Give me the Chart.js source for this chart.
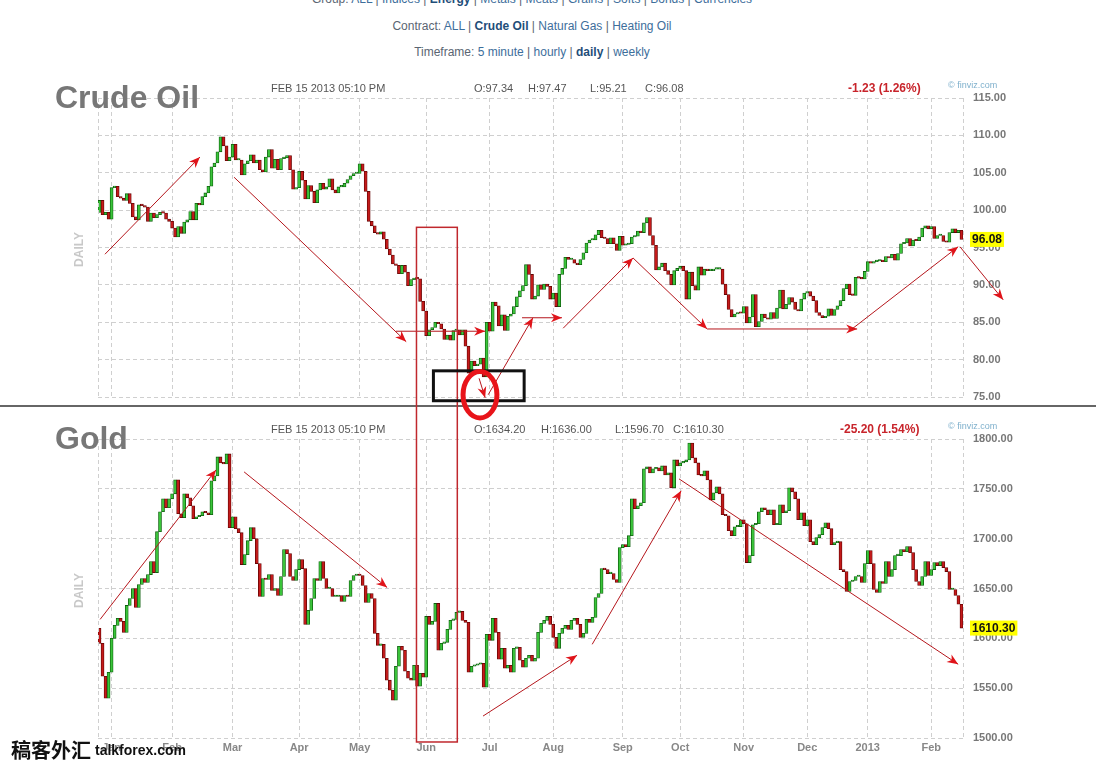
<!DOCTYPE html>
<html>
<head>
<meta charset="utf-8">
<script src="https://cdn.jsdelivr.net/npm/chart.js@4.4.0/dist/chart.umd.min.js"></script>
<style>
  body { margin: 0; width: 1096px; height: 766px; overflow: hidden; background: #fff; position: relative;
         font-family: Arial, "Liberation Sans", sans-serif; }
  .nav { position: absolute; left: 0; width: 1064px; text-align: center; font-size: 12px; line-height: 14px; color: #5a6572; }
  .nav a { color: #3d6e9b; }
  .nav b { color: #1f4e79; }
  canvas { position: absolute; left: 0; }
  #oil { top: 70px; }
  #gold { top: 408px; }
  #over { top: 0; pointer-events: none; }
</style>
</head>
<body>
<div class="nav" style="top:-8px">Group: <a>ALL</a> | <a>Indices</a> | <b>Energy</b> | <a>Metals</a> | <a>Meats</a> | <a>Grains</a> | <a>Softs</a> | <a>Bonds</a> | <a>Currencies</a></div>
<div class="nav" style="top:19px">Contract: <a>ALL</a> | <b>Crude Oil</b> | <a>Natural Gas</a> | <a>Heating Oil</a></div>
<div class="nav" style="top:45px">Timeframe: <a>5 minute</a> | <a>hourly</a> | <b>daily</b> | <a>weekly</a></div>

<canvas id="oil" width="1096" height="336"></canvas>
<canvas id="gold" width="1096" height="358"></canvas>
<canvas id="over" width="1096" height="766"></canvas>

<script>
// trading days per month, Dec 27 2011 .. Feb 15 2013
const monthNames = ['', 'Jan', 'Feb', 'Mar', 'Apr', 'May', 'Jun', 'Jul', 'Aug', 'Sep', 'Oct', 'Nov', 'Dec', '2013', 'Feb'];
const monthDays = [4, 20, 20, 22, 20, 22, 21, 21, 23, 19, 21, 21, 20, 21, 11];

// daily closes, one line per month
const oilOpenFirst = 99.7;
const oilClose = [
  101.3, 99.4, 99.7, 98.8,
  103.0, 103.2, 101.8, 101.6, 101.3, 102.2, 100.9, 99.1, 98.7, 100.7, 100.6, 100.4, 98.5, 99.6, 99.0, 99.4, 99.7, 99.6, 98.8, 98.5,
  97.6, 96.4, 97.8, 96.9, 98.4, 98.7, 99.8, 98.7, 100.9, 100.7, 101.8, 102.3, 103.2, 105.8, 106.3, 107.8, 109.8, 108.6, 106.6, 107.1,
  108.8, 106.7, 106.7, 104.7, 106.2, 106.6, 107.4, 106.3, 106.7, 105.4, 105.1, 107.1, 108.1, 105.6, 106.8, 105.4, 106.9, 107.0, 107.3, 105.4, 102.8, 103.0,
  105.2, 104.0, 101.5, 103.3, 102.5, 101.0, 102.7, 103.6, 102.8, 103.1, 104.2, 102.7, 102.3, 103.1, 103.1, 103.6, 104.1, 104.6, 104.9, 104.9,
  106.2, 105.2, 102.5, 98.5, 97.9, 97.0, 96.8, 97.1, 96.1, 94.8, 94.0, 92.8, 92.6, 91.5, 92.6, 91.7, 89.9, 90.7, 90.9, 90.8, 87.8, 86.5,
  83.2, 84.0, 84.3, 85.0, 84.8, 84.1, 82.7, 83.3, 82.6, 83.9, 84.0, 83.3, 84.0, 81.8, 78.2, 79.8, 79.2, 79.4, 80.2, 77.7, 85.0,
  83.8, 87.7, 87.2, 84.5, 86.0, 83.9, 85.8, 86.1, 87.1, 88.4, 89.2, 89.9, 92.7, 91.4, 88.1, 88.5, 90.0, 89.4, 90.1, 89.8, 88.1,
  88.9, 87.1, 91.4, 92.2, 93.7, 93.4, 93.4, 92.9, 92.7, 93.4, 94.3, 95.6, 96.0, 96.0, 96.7, 97.3, 96.3, 96.2, 95.5, 96.3, 95.5, 94.6, 96.5,
  95.3, 95.4, 95.5, 96.4, 96.5, 97.2, 97.0, 98.3, 99.0, 96.6, 95.3, 92.0, 92.4, 92.9, 91.9, 91.4, 90.0, 91.9, 92.2,
  92.5, 91.9, 88.1, 91.7, 89.9, 89.3, 92.4, 91.3, 92.1, 91.9, 91.9, 92.1, 92.1, 92.1, 90.1, 88.7, 86.7, 85.7, 86.1, 86.3, 86.2,
  87.1, 84.9, 85.7, 88.7, 84.4, 85.1, 86.1, 85.6, 85.4, 86.3, 85.5, 86.9, 89.3, 86.8, 87.4, 88.3, 87.7, 86.7, 86.5, 88.1, 88.9,
  89.1, 88.5, 87.9, 86.3, 85.9, 85.6, 85.8, 86.8, 85.9, 86.7, 87.2, 87.9, 89.5, 90.1, 88.7, 88.6, 91.0, 90.9, 90.8, 91.8,
  93.1, 92.9, 93.1, 93.2, 93.2, 93.1, 93.8, 93.6, 94.1, 93.3, 94.2, 95.5, 95.6, 96.2, 95.2, 96.0, 95.9, 96.4, 97.6, 97.9, 97.5,
  97.8, 96.2, 96.6, 96.6, 95.8, 95.7, 97.0, 97.5, 97.0, 97.3, 96.08
];

const goldOpenFirst = 1610;
const goldClose = [
  1595, 1562, 1540, 1566,
  1600, 1613, 1620, 1617, 1606, 1633, 1640, 1650, 1631, 1654, 1660, 1656, 1664, 1677, 1666, 1707, 1727, 1740, 1731, 1740,
  1745, 1759, 1725, 1721, 1745, 1741, 1733, 1720, 1722, 1723, 1727, 1726, 1724, 1758, 1763, 1782, 1776, 1775, 1785, 1711,
  1722, 1710, 1706, 1674, 1684, 1698, 1711, 1700, 1675, 1642, 1660, 1659, 1664, 1648, 1650, 1643, 1662, 1689, 1685, 1662, 1658, 1669,
  1679, 1670, 1614, 1628, 1640, 1660, 1658, 1677, 1660, 1650, 1650, 1642, 1642, 1643, 1637, 1643, 1642, 1658, 1663, 1664,
  1663, 1653, 1636, 1645, 1640, 1605, 1593, 1594, 1580, 1558, 1548, 1538, 1572, 1592, 1588, 1567, 1560, 1558, 1573, 1552, 1565, 1561,
  1622, 1614, 1617, 1635, 1588, 1595, 1596, 1609, 1618, 1619, 1626, 1627, 1618, 1616, 1566, 1572, 1573, 1574, 1575, 1551, 1604,
  1598, 1620, 1606, 1579, 1590, 1570, 1573, 1566, 1590, 1591, 1578, 1571, 1580, 1583, 1577, 1580, 1606, 1615, 1618, 1622, 1614,
  1601, 1590, 1605, 1610, 1613, 1609, 1618, 1620, 1614, 1601, 1605, 1619, 1616, 1621, 1641, 1645, 1670, 1669, 1665, 1665, 1659, 1656, 1691,
  1694, 1692, 1703, 1740, 1730, 1733, 1736, 1770, 1772, 1766, 1770, 1771, 1768, 1773, 1764, 1766, 1751, 1779, 1773,
  1776, 1777, 1779, 1796, 1781, 1776, 1764, 1763, 1768, 1759, 1739, 1746, 1752, 1745, 1724, 1723, 1708, 1703, 1712, 1712, 1719,
  1715, 1676, 1683, 1714, 1715, 1727, 1731, 1729, 1724, 1729, 1714, 1714, 1734, 1726, 1728, 1751, 1747, 1740, 1719, 1726, 1713,
  1719, 1697, 1694, 1701, 1704, 1711, 1716, 1710, 1694, 1696, 1697, 1669, 1667, 1647, 1657, 1658, 1662, 1662, 1656, 1675,
  1688, 1675, 1649, 1646, 1657, 1655, 1677, 1662, 1669, 1683, 1683, 1689, 1687, 1692, 1686, 1669, 1657, 1653, 1662, 1677, 1663,
  1669, 1676, 1673, 1677, 1671, 1667, 1649, 1649, 1643, 1634.2, 1610.3
];

const oilYTicks = [75, 115, 5];
const goldYTicks = [1500, 1800, 50];

// hand drawn marks, in [day index, price] units
const oilArrows = [
  [1.8, 94.1, 33.2, 107.1],
  [44.5, 104.4, 101.4, 82.4],
  [98.0, 83.8, 127.5, 83.8],
  [125.5, 77.5, 127.5, 74.9],
  [128.5, 75.3, 143.3, 85.6],
  [139.7, 85.6, 152.9, 85.6],
  [153.3, 84.2, 176.4, 93.6],
  [176.4, 93.6, 200.9, 84.1],
  [200.9, 84.1, 250.5, 84.1],
  [248.8, 84.1, 283.9, 95.1],
  [284.5, 95.1, 298.8, 88.0]
];
const goldArrows = [
  [0.2, 1619, 38.5, 1769],
  [47.8, 1767, 95.1, 1651],
  [126.8, 1522, 157.9, 1583],
  [162.9, 1594, 192.3, 1748],
  [191.6, 1760, 283.9, 1574]
];
const redBox = { from: 104.8, to: 118.3, oilTop: 97.7, goldBottom: 1496 };
const blackBox = { from: 110.4, to: 140.4, top: 78.5, bottom: 74.5 };
const redRing = { x: 125.8, y: 75.3, rx: 5.6, ry: 3.1 };

const labels = [];
monthNames.forEach((m, k) => {
  for (let d = 0; d < monthDays[k]; d++) labels.push(d === 0 ? m : '');
});

Chart.defaults.font.family = 'Arial, "Liberation Sans", sans-serif';

const candles = (closes, firstOpen) => closes.map((c, i) => [i === 0 ? firstOpen : closes[i - 1], c]);

const makeChart = (id, closes, firstOpen, yTicks, padTop, xHeight, showX) => {
  const data = candles(closes, firstOpen);
  const up = data.map(d => d[1] >= d[0]);
  return new Chart(document.getElementById(id), {
    type: 'bar',
    data: {
      labels,
      datasets: [{
        data,
        backgroundColor: up.map(u => u ? '#3ac43a' : '#c41a1a'),
        borderColor: up.map(u => u ? '#0d5e0d' : '#640404'),
        borderWidth: 0.8,
        borderSkipped: false,
        barPercentage: 1,
        categoryPercentage: 1,
        minBarLength: 1.5
      }]
    },
    options: {
      responsive: false,
      animation: false,
      events: [],
      layout: { padding: { left: 98, top: padTop, right: 0, bottom: 0 } },
      plugins: { legend: { display: false }, tooltip: { enabled: false } },
      scales: {
        x: {
          grid: { color: '#cfcfcf', offset: false, drawTicks: false },
          border: { display: false, dash: [4, 3] },
          ticks: {
            display: showX, autoSkip: false, maxRotation: 0, padding: 3,
            color: '#888', font: { size: 11, weight: 'bold' },
            callback: v => labels[v]
          },
          afterBuildTicks: axis => { axis.ticks = axis.ticks.filter(t => labels[t.value] !== ''); },
          afterFit: axis => { axis.height = xHeight; }
        },
        y: {
          position: 'right',
          min: yTicks[0], max: yTicks[1],
          grid: { color: '#cfcfcf', drawTicks: true, tickLength: 10, tickColor: 'rgba(0,0,0,0)' },
          border: { display: false, dash: [4, 3] },
          ticks: {
            stepSize: yTicks[2], padding: 0,
            color: '#777', font: { size: 11, weight: 'bold' },
            callback: v => v.toFixed(2)
          },
          afterFit: axis => { axis.width = 133; }
        }
      }
    }
  });
};

const oilChart = makeChart('oil', oilClose, oilOpenFirst, oilYTicks, 28, 9, false);
const goldChart = makeChart('gold', goldClose, goldOpenFirst, goldYTicks, 31, 28, true);

const drawArrow = (c, x1, y1, x2, y2) => {
  c.beginPath(); c.moveTo(x1, y1); c.lineTo(x2, y2); c.stroke();
  const a = Math.atan2(y2 - y1, x2 - x1), L = 11, W = 4.5;
  c.beginPath();
  c.moveTo(x2, y2);
  c.lineTo(x2 - L * Math.cos(a) + W * Math.sin(a), y2 - L * Math.sin(a) - W * Math.cos(a));
  c.lineTo(x2 - L * 0.7 * Math.cos(a), y2 - L * 0.7 * Math.sin(a));
  c.lineTo(x2 - L * Math.cos(a) - W * Math.sin(a), y2 - L * Math.sin(a) + W * Math.cos(a));
  c.closePath(); c.fill();
};

const drawOverlay = () => {
  const c = document.getElementById('over').getContext('2d');
  const panels = [
    { chart: oilChart, top: 70, title: 'Crude Oil', info: ['O:97.34', 'H:97.47', 'L:95.21', 'C:96.08'], infoX: [474, 528, 590, 645],
      change: '-1.23 (1.26%)', changeX: 848, last: oilClose[oilClose.length - 1], tag: '96.08', arrows: oilArrows },
    { chart: goldChart, top: 408, title: 'Gold', info: ['O:1634.20', 'H:1636.00', 'L:1596.70', 'C:1610.30'], infoX: [474, 541, 615, 673],
      change: '-25.20 (1.54%)', changeX: 840, last: goldClose[goldClose.length - 1], tag: '1610.30', arrows: goldArrows }
  ];
  const X = (p, i) => p.chart.scales.x.getPixelForValue(i);
  const Y = (p, v) => p.top + p.chart.scales.y.getPixelForValue(v);

  panels.forEach(p => {
    const a = p.chart.chartArea;
    // dashed frame edges
    c.save();
    c.strokeStyle = '#cfcfcf'; c.lineWidth = 1; c.setLineDash([4, 3]);
    [a.left, a.right].forEach(x => {
      c.beginPath(); c.moveTo(Math.round(x) + 0.5, p.top + a.top); c.lineTo(Math.round(x) + 0.5, p.top + a.bottom); c.stroke();
    });
    c.restore();

    const base = p.top + a.top;
    c.fillStyle = '#777';
    c.font = 'bold 32px Arial, "Liberation Sans", sans-serif';
    c.textBaseline = 'alphabetic';
    c.fillText(p.title, 55, base + 10);

    c.fillStyle = '#555';
    c.font = '11px Arial, "Liberation Sans", sans-serif';
    c.fillText('FEB 15 2013 05:10 PM', 271, base - 6);
    p.info.forEach((t, k) => c.fillText(t, p.infoX[k], base - 6));

    c.fillStyle = '#c8242b';
    c.font = 'bold 12px Arial, "Liberation Sans", sans-serif';
    c.fillText(p.change, p.changeX, base - 6);

    c.fillStyle = '#7fb0cc';
    c.font = '9px Arial, "Liberation Sans", sans-serif';
    c.fillText('\u00a9 finviz.com', 948, base - 10);

    c.save();
    c.fillStyle = '#c8c8c8';
    c.font = 'bold 12px Arial, "Liberation Sans", sans-serif';
    c.translate(80, p.top + (a.top + a.bottom) / 2 + 2);
    c.rotate(-Math.PI / 2);
    c.textAlign = 'center'; c.textBaseline = 'middle';
    c.fillText('DAILY', 0, 0);
    c.restore();

    // last price tag
    const ty = Y(p, p.last);
    c.font = 'bold 12px Arial, "Liberation Sans", sans-serif';
    const tw = c.measureText(p.tag).width + 4;
    c.fillStyle = '#ffff00';
    c.fillRect(970, ty - 7.5, tw, 15);
    c.fillStyle = '#111';
    c.textBaseline = 'middle';
    c.fillText(p.tag, 972, ty + 0.5);
    c.textBaseline = 'alphabetic';
  });

  // panel separator
  c.fillStyle = '#666';
  c.fillRect(0, 405, 1096, 2);

  // arrows
  c.strokeStyle = '#b5161c'; c.fillStyle = '#e0141a'; c.lineWidth = 1;
  panels.forEach(p => p.arrows.forEach(r => drawArrow(c, X(p, r[0]), Y(p, r[1]), X(p, r[2]), Y(p, r[3]))));

  const oil = panels[0], gold = panels[1];
  c.strokeStyle = '#c0282d'; c.lineWidth = 1.5;
  const rx1 = X(oil, redBox.from), rx2 = X(oil, redBox.to);
  c.strokeRect(rx1, Y(oil, redBox.oilTop), rx2 - rx1, Y(gold, redBox.goldBottom) - Y(oil, redBox.oilTop));

  c.strokeStyle = '#111'; c.lineWidth = 3;
  const bx1 = X(oil, blackBox.from), bx2 = X(oil, blackBox.to);
  c.strokeRect(bx1, Y(oil, blackBox.top), bx2 - bx1, Y(oil, blackBox.bottom) - Y(oil, blackBox.top));

  c.strokeStyle = '#e8141a'; c.lineWidth = 5;
  const ex = X(oil, redRing.x), ey = Y(oil, redRing.y);
  c.beginPath();
  c.ellipse(ex, ey, X(oil, redRing.x + redRing.rx) - ex, Y(oil, redRing.y - redRing.ry) - ey, 0, 0, Math.PI * 2);
  c.stroke();

  // watermark
  c.fillStyle = '#111';
  c.font = 'bold 20px "Noto Sans CJK SC", sans-serif';
  c.textBaseline = 'middle';
  c.fillText('稿客外汇', 11, 750);
  c.font = 'bold 14px Arial, "Liberation Sans", sans-serif';
  c.fillText('talkforex.com', 95, 751);
};

drawOverlay();
</script>
</body>
</html>
